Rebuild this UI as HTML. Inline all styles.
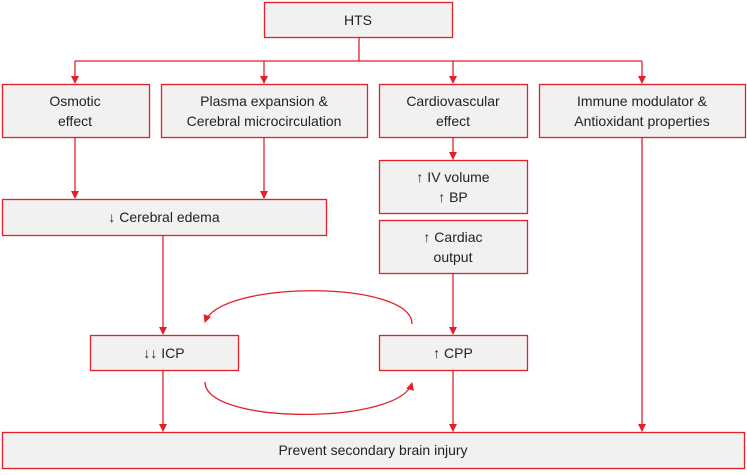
<!DOCTYPE html>
<html><head><meta charset="utf-8"><style>
body{margin:0;background:#fff;width:747px;height:470px;overflow:hidden}
</style></head><body>
<svg width="747" height="470" viewBox="0 0 747 470" xmlns="http://www.w3.org/2000/svg" font-family="Liberation Sans, DejaVu Sans, sans-serif" font-size="14" fill="#222">
<defs><marker id="a" markerWidth="8" markerHeight="8" refX="7" refY="4" orient="auto" markerUnits="userSpaceOnUse"><path d="M0,0 L8,4 L0,8 Z" fill="#e3202a"/></marker></defs>
<g fill="#f1f1f1" stroke="#e3202a" stroke-width="1.3">
<rect x="264.5" y="2.5" width="188" height="35"/>
<rect x="2.5" y="84.5" width="147" height="53"/>
<rect x="161.5" y="84.5" width="206" height="53"/>
<rect x="379.5" y="84.5" width="148" height="53"/>
<rect x="539.5" y="84.5" width="206" height="53"/>
<rect x="2.5" y="199.5" width="324" height="36"/>
<rect x="379.5" y="160.5" width="148" height="53"/>
<rect x="379.5" y="220.5" width="148" height="53"/>
<rect x="90.5" y="335.5" width="148" height="35"/>
<rect x="379.5" y="335.5" width="148" height="35"/>
<rect x="2.5" y="432.5" width="742" height="36"/>
</g>
<g stroke="#e3202a" stroke-width="1.3" fill="none">
<path d="M359,37 V61 M75,61 H642"/>
<path d="M75,61 V83" marker-end="url(#a)"/>
<path d="M264,61 V83" marker-end="url(#a)"/>
<path d="M453,61 V83" marker-end="url(#a)"/>
<path d="M642,61 V83" marker-end="url(#a)"/>
<path d="M75,137 V198" marker-end="url(#a)"/>
<path d="M264,137 V198" marker-end="url(#a)"/>
<path d="M453,137 V159" marker-end="url(#a)"/>
<path d="M163,235 V334" marker-end="url(#a)"/>
<path d="M453,273 V334" marker-end="url(#a)"/>
<path d="M163,370 V431" marker-end="url(#a)"/>
<path d="M453,370 V431" marker-end="url(#a)"/>
<path d="M642,137 V431" marker-end="url(#a)"/>
<path d="M412,324 C412,280 220,280 205,322" marker-end="url(#a)"/>
<path d="M205,382 C205,425 400,425 412,383" marker-end="url(#a)"/>
</g>
<g text-anchor="middle">
<text x="358" y="25">HTS</text>
<text x="75" y="106">Osmotic</text><text x="75" y="126">effect</text>
<text x="264" y="106">Plasma expansion &amp;</text><text x="264" y="126">Cerebral microcirculation</text>
<text x="453" y="106">Cardiovascular</text><text x="453" y="126">effect</text>
<text x="642" y="106">Immune modulator &amp;</text><text x="642" y="126">Antioxidant properties</text>
<text x="164" y="222">↓ Cerebral edema</text>
<text x="453" y="182">↑ IV volume</text><text x="453" y="202">↑ BP</text>
<text x="453" y="242">↑ Cardiac</text><text x="453" y="262">output</text>
<text x="164" y="358">↓↓ ICP</text>
<text x="453" y="358">↑ CPP</text>
<text x="373" y="455">Prevent secondary brain injury</text>
</g>
</svg>
</body></html>
